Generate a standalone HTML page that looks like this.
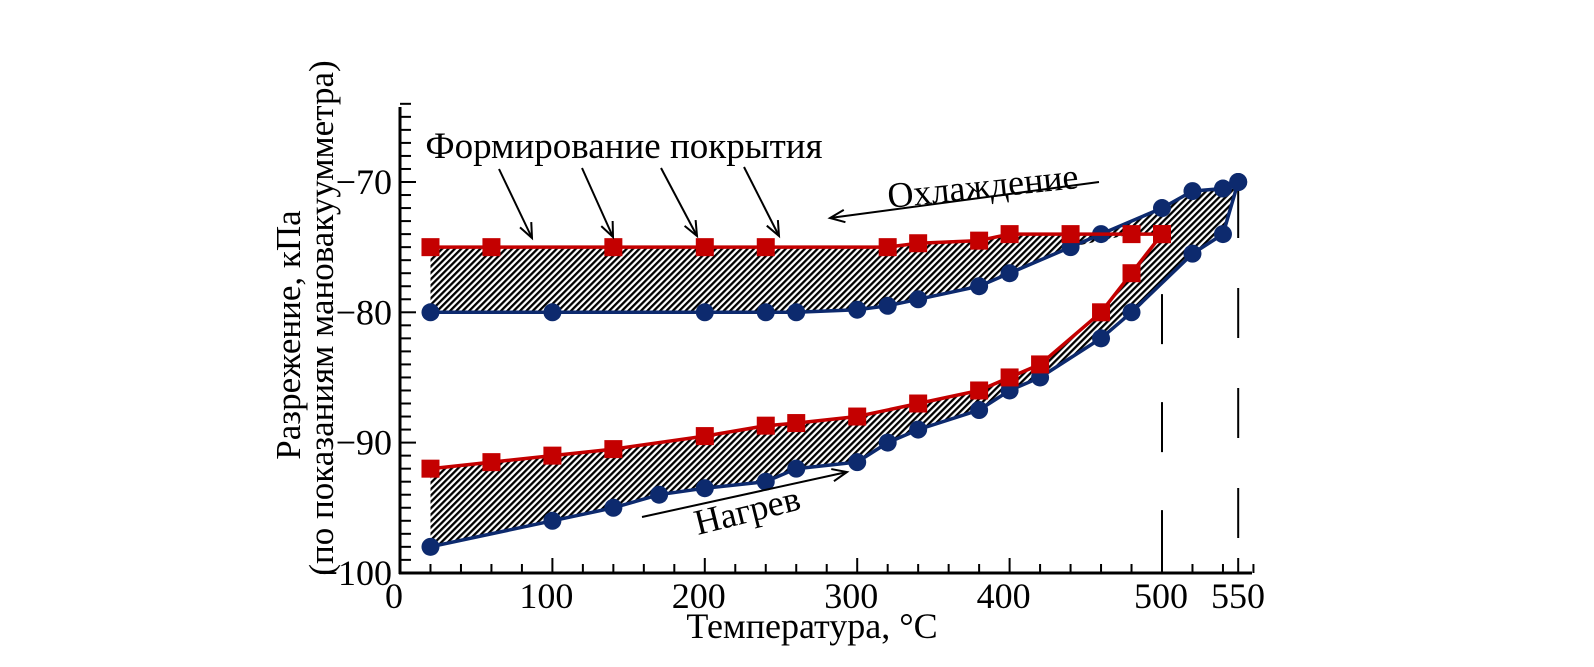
<!DOCTYPE html>
<html><head><meta charset="utf-8"><style>
body{margin:0;background:#fff}
svg{display:block;font-family:"Liberation Serif",serif}
</style></head><body>
<svg id="chart" width="1594" height="667" viewBox="0 0 1594 667" xmlns="http://www.w3.org/2000/svg">
<defs>
<pattern id="hatch" patternUnits="userSpaceOnUse" width="4.5" height="4.5" patternTransform="rotate(45)">
<rect width="4.5" height="4.5" fill="#fff"/><rect width="2.3" height="4.5" fill="#000"/>
</pattern>
</defs>
<g id="plot" transform="translate(2,0)"></g>
</svg>
<script>
const coolX=[20,60,140,200,240,320,340,380,400,440,480,500];
const coolRed=[-75,-75,-75,-75,-75,-75,-74.7,-74.5,-74,-74,-74,-74];
const coolBlueX=[20,100,200,240,260,300,320,340,380,400,440,460,500,520,540,550];
const coolBlue=[-80,-80,-80,-80,-80,-79.8,-79.5,-79,-78,-77,-75,-74,-72,-70.7,-70.5,-70];
const heatRedX=[20,60,100,140,200,240,260,300,340,380,400,420,460,480,500];
const heatRed=[-92,-91.5,-91,-90.5,-89.5,-88.7,-88.5,-88,-87,-86,-85,-84,-80,-77,-74];
const heatBlueX=[20,100,140,170,200,240,260,300,320,340,380,400,420,460,480,520,540,550];
const heatBlue=[-98,-96,-95,-94,-93.5,-93,-92,-91.5,-90,-89,-87.5,-86,-85,-82,-80,-75.5,-74,-70];
const xTicks=[0,100,200,300,400,500,550];
const yTicks=[-70,-80,-90,-100];

const X=v=>398+v*1.524, Y=v=>182+(-70-v)*13.03;
const NS='http://www.w3.org/2000/svg';
const g=document.getElementById('plot');
function mk(t,a,p){const e=document.createElementNS(NS,t);for(const k in a)e.setAttribute(k,a[k]);(p||g).appendChild(e);return e;}
function pts(xs,ys){return xs.map((x,i)=>X(x).toFixed(1)+','+Y(ys[i]).toFixed(1));}

let outer=mk('polygon',{points:pts(heatBlueX,heatBlue).concat(pts(coolBlueX,coolBlue).reverse()).join(' '),fill:'url(#hatch)'});


const wTop=[];
const crossIdx=coolBlue.findIndex(v=>v>-74.01);
coolBlueX.forEach((x,i)=>{ if(coolBlue[i]<=-74.01) wTop.push(X(x).toFixed(1)+','+Y(coolBlue[i]).toFixed(1)); });
coolX.forEach((x,i)=>{ if(x>coolBlueX[crossIdx]) wTop.push(X(x).toFixed(1)+','+Y(coolRed[i]).toFixed(1)); });
let inner=mk('polygon',{points:wTop.concat(pts(heatRedX,heatRed).reverse()).join(' '),fill:'#fff'});


const bx=[],by=[];
coolBlueX.forEach((x,i)=>{ if(x<=500){bx.push(x);by.push(coolBlue[i]);} });
let band=mk('polygon',{points:pts(coolX,coolRed).concat(pts(bx,by).reverse()).join(' '),fill:'url(#hatch)'});



let d1=mk('line',{x1:X(500),y1:Y(-74),x2:X(500),y2:566,stroke:'#000','stroke-width':2,'stroke-dasharray':'8 52 50 58 50 58 50 60'});


let d2=mk('line',{x1:X(550),y1:Y(-70),x2:X(550),y2:560,stroke:'#000','stroke-width':2,'stroke-dasharray':'56 50 50 50 50 50 50 50'});



function series(xs,ys,color,marker,name){
  const l=mk('polyline',{points:pts(xs,ys).join(' '),fill:'none',stroke:color,'stroke-width':3.5});
  
  
  xs.forEach((x,i)=>{
    let m;
    if(marker==='sq') m=mk('rect',{x:X(x)-9,y:Y(ys[i])-9,width:18,height:18,fill:color});
    else m=mk('circle',{cx:X(x),cy:Y(ys[i]),r:9,fill:color});
    
    
  });
}
series(coolBlueX,coolBlue,'#0d2a6e','c','cooling-blue');
series(heatBlueX,heatBlue,'#0d2a6e','c','heating-blue');
series(coolX,coolRed,'#c40000','sq','cooling-red');
series(heatRedX,heatRed,'#c40000','sq','heating-red');

let ya=mk('line',{x1:398,y1:107,x2:398,y2:574,stroke:'#000','stroke-width':3});


let xa=mk('line',{x1:397,y1:573,x2:1250,y2:573,stroke:'#000','stroke-width':3});


for(let v=-100;v<=-64;v++){
  let t=mk('line',{x1:398,y1:Y(v),x2:v%10===0?414:409,y2:Y(v),stroke:'#000','stroke-width':2});
  
  
}
for(let v=0;v<=560;v+=20){
  let t=mk('line',{x1:X(v),y1:573,x2:X(v),y2:v%100===0?558:564,stroke:'#000','stroke-width':2});
  
  
}
let t550=mk('line',{x1:X(550),y1:573,x2:X(550),y2:558,stroke:'#000','stroke-width':2});


xTicks.forEach(v=>{
  let t=mk('text',{x:v===550?1236:(v===500?X(v)-1:X(v)-6),y:608,'font-size':36,'text-anchor':'middle'});
  t.textContent=String(v);
  
  
});
yTicks.forEach(v=>{
  let t=mk('text',{x:390,y:Y(v)+12,'font-size':36,'text-anchor':'end'});
  t.textContent='\u2212'+String(-v);
  
  
});
function txt(s,a,name){const t=mk('text',a);t.textContent=s;return t;}
txt('Температура, °С',{x:810,y:638,'font-size':36,'text-anchor':'middle'},'x-axis-title');
txt('Разрежение, кПа',{x:0,y:0,'font-size':35,'text-anchor':'middle',transform:'translate(298,335) rotate(-90)'},'y-axis-title');
txt('(по показаниям мановакуумметра)',{x:0,y:0,'font-size':35,'text-anchor':'middle',transform:'translate(331,318) rotate(-90)'},'y-axis-subtitle');
txt('Формирование покрытия',{x:622,y:158,'font-size':37,'text-anchor':'middle'},'coating-formation-label');
txt('Охлаждение',{x:0,y:0,'font-size':36,'text-anchor':'middle',transform:'translate(982,198) rotate(-6)'},'cooling-label');
txt('Нагрев',{x:0,y:0,'font-size':36,'text-anchor':'middle',transform:'translate(748,522) rotate(-14)'},'heating-label');
function arrow(x1,y1,x2,y2,name){
  const l=mk('line',{x1,y1,x2,y2,stroke:'#000','stroke-width':2});
  
  
  const a=Math.atan2(y2-y1,x2-x1),L=16,w=0.4;
  const h=mk('polyline',{points:`${x2-L*Math.cos(a-w)},${y2-L*Math.sin(a-w)} ${x2},${y2} ${x2-L*Math.cos(a+w)},${y2-L*Math.sin(a+w)}`,fill:'none',stroke:'#000','stroke-width':2});
  
  
}
arrow(497,169,530,238,'formation-arrow');
arrow(580,168,611,237,'formation-arrow');
arrow(659,168,695,236,'formation-arrow');
arrow(742,167,777,236,'formation-arrow');
arrow(1097,182,828,218,'cooling-arrow');
arrow(640,517,845,472,'heating-arrow');
</script>
</body></html>
